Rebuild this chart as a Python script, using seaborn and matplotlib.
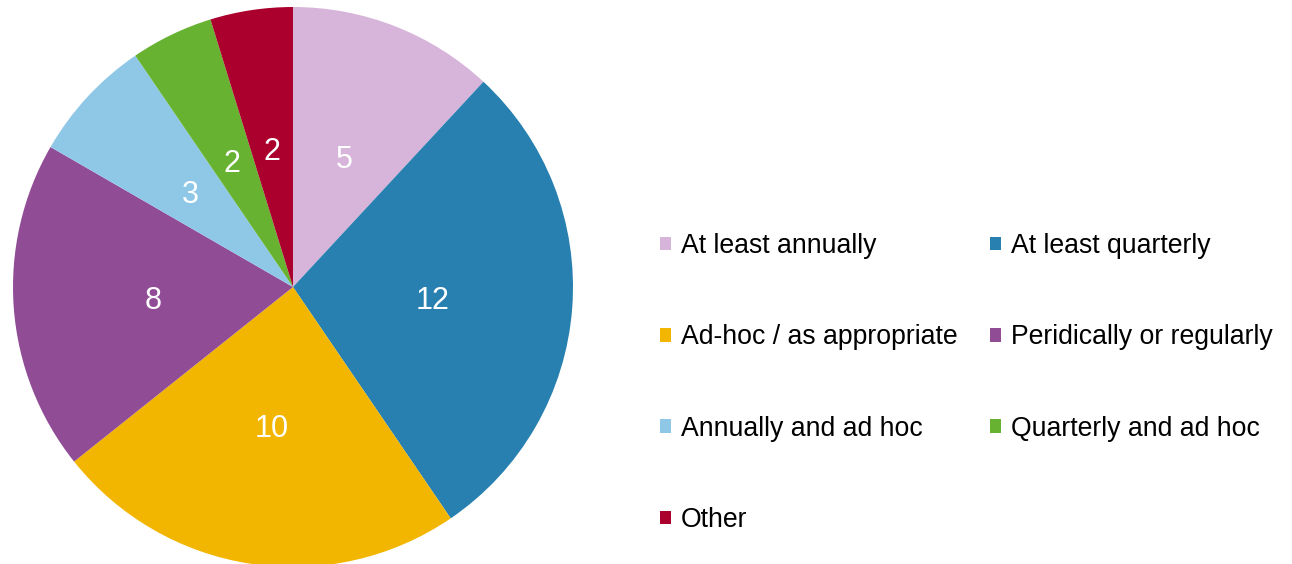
import matplotlib
matplotlib.use("Agg")
import matplotlib.pyplot as plt
from matplotlib.patches import Patch
import seaborn as sns

categories = [
    "At least annually",
    "At least quarterly",
    "Ad-hoc / as appropriate",
    "Peridically or regularly",
    "Annually and ad hoc",
    "Quarterly and ad hoc",
    "Other",
]
counts = [5, 12, 10, 8, 3, 2, 2]
colors = ["#D7B4DA", "#2780B0", "#F2B600", "#904D96", "#8FC8E7", "#68B232", "#AB002D"]

sns.set_theme(style="white")
plt.rcParams["font.family"] = ["Liberation Sans", "DejaVu Sans"]

W, H = 1292, 564
fig = plt.figure(figsize=(W / 100, H / 100), dpi=100)

cx, cy, r = 293, 287, 280
ax = fig.add_axes([(cx - r) / W, (H - cy - r) / H, 2 * r / W, 2 * r / H])
wedges, texts = ax.pie(
    counts,
    colors=colors,
    startangle=90,
    counterclock=False,
    labels=[str(c) for c in counts],
    labeldistance=0.5,
    textprops=dict(color="white", fontsize=22, ha="center", va="center_baseline"),
    wedgeprops=dict(linewidth=0),
)
ax.set_xlim(-1, 1)
ax.set_ylim(-1, 1)
ax.set_aspect("equal")
ax.axis("off")

# legend laid out row by row: fill columns in the order that reads across rows
order = [0, 2, 4, 6, 1, 3, 5]
handles = [Patch(facecolor=colors[i], edgecolor="none") for i in order]
labels = [categories[i] for i in order]
fig.legend(
    handles,
    labels,
    loc="upper left",
    bbox_to_anchor=(660 / W, 1 - 233 / H),
    ncol=2,
    frameon=False,
    fontsize=19.2,
    labelcolor="black",
    handlelength=0.41,
    handleheight=0.41,
    handletextpad=0.37,
    columnspacing=1.22,
    labelspacing=2.45,
    borderpad=0,
    borderaxespad=0,
)

fig.savefig("out.png", dpi=100)
